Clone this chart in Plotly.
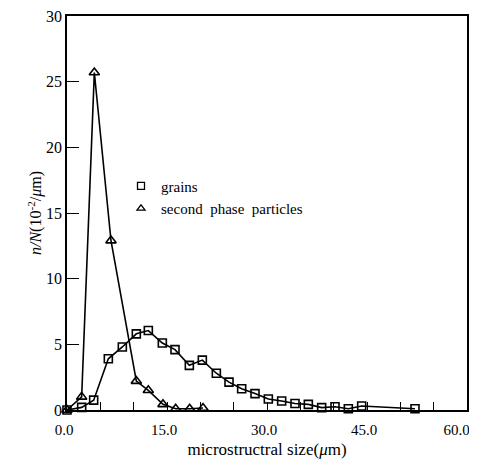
import plotly.graph_objects as go

# grains (squares)
grain_x = [0.0, 2.2, 4.0, 6.2, 8.3, 10.4, 12.2, 14.3, 16.2, 18.35, 20.3, 22.4, 24.3, 26.2,
           28.2, 30.2, 32.2, 34.2, 36.2, 38.2, 40.2, 42.2, 44.2, 52.2]
grain_y = [0.0, 0.2, 0.75, 3.9, 4.8, 5.8, 6.05, 5.1, 4.6, 3.4, 3.8, 2.8, 2.12, 1.62,
           1.25, 0.84, 0.69, 0.5, 0.43, 0.18, 0.25, 0.1, 0.3, 0.1]

# second phase particles (triangles)
part_x = [0.0, 2.2, 4.1, 6.6, 10.4, 12.2, 14.4, 16.3, 18.4, 20.4]
part_y = [0.0, 1.0, 25.7, 12.9, 2.2, 1.5, 0.43, 0.1, 0.1, 0.15]

x_tickvals = [0, 5, 10, 15, 20, 25, 30, 35, 40, 45, 50, 55, 60]
x_ticktext = ["0.0", "", "", "15.0", "", "", "30.0", "", "", "45.0", "", "",
              "60.0\u00a0\u00a0\u00a0\u00a0"]
y_tickvals = [0, 5, 10, 15, 20, 25, 30]
y_ticktext = ["0", "5", "10", "15", "20", "25", "30"]

FONT = "Liberation Serif"
fig = go.Figure()
fig.add_trace(go.Scatter(x=grain_x, y=grain_y, mode="lines+markers", showlegend=False,
                         line=dict(color="black", width=1.6),
                         marker=dict(symbol="square-open", size=8, color="black", line=dict(width=1.6)),
                         cliponaxis=False))
fig.add_trace(go.Scatter(x=part_x, y=part_y, mode="lines+markers", showlegend=False,
                         line=dict(color="black", width=1.6),
                         marker=dict(symbol="triangle-up-open", size=9, color="black", line=dict(width=1.6)),
                         cliponaxis=False))
# legend entries (marker only)
fig.add_trace(go.Scatter(x=[None], y=[None], mode="markers", name="grains",
                         marker=dict(symbol="square-open", size=7, color="black", line=dict(width=1.3))))
fig.add_trace(go.Scatter(x=[None], y=[None], mode="markers", name="second  phase  particles",
                         marker=dict(symbol="triangle-up-open", size=7, color="black", line=dict(width=1.3))))

fig.update_layout(
    width=477, height=459,
    margin=dict(l=59, r=18, t=8, b=57, autoexpand=False),
    paper_bgcolor="white", plot_bgcolor="white",
    font=dict(family=FONT, size=15, color="black"),
    legend=dict(x=0.135, y=0.61, xanchor="left", yanchor="top", bgcolor="rgba(0,0,0,0)",
                font=dict(family=FONT, size=15), itemwidth=30, tracegroupgap=0),
    xaxis=dict(range=[0, 60], tickvals=x_tickvals, ticktext=x_ticktext, ticks="inside",
               ticklen=8, tickwidth=1, tickcolor="black", showgrid=False, zeroline=False,
               showline=True, linecolor="black", linewidth=1.5, mirror=True, automargin=False,
               ticklabeloverflow="allow", ticklabelshift=-3, ticklabelstandoff=5,
               tickfont=dict(family=FONT, size=15),
               title=dict(text="microstructral size(<i>μ</i>m)", font=dict(family=FONT, size=17), standoff=6)),
    yaxis=dict(range=[0, 30], tickvals=y_tickvals, ticktext=y_ticktext, ticks="inside",
               ticklen=12, tickwidth=1.2, tickcolor="black", showgrid=False, zeroline=False,
               showline=True, linecolor="black", linewidth=1.5, mirror=True, automargin=False,
               ticklabeloverflow="allow", ticklabelstandoff=0,
               tickfont=dict(family=FONT, size=16),
               title=dict(text="<i>n/N</i>(10<sup>-2</sup>/<i>μ</i>m)", font=dict(family=FONT, size=16), standoff=0)),
)
fig.write_html("out.html")
